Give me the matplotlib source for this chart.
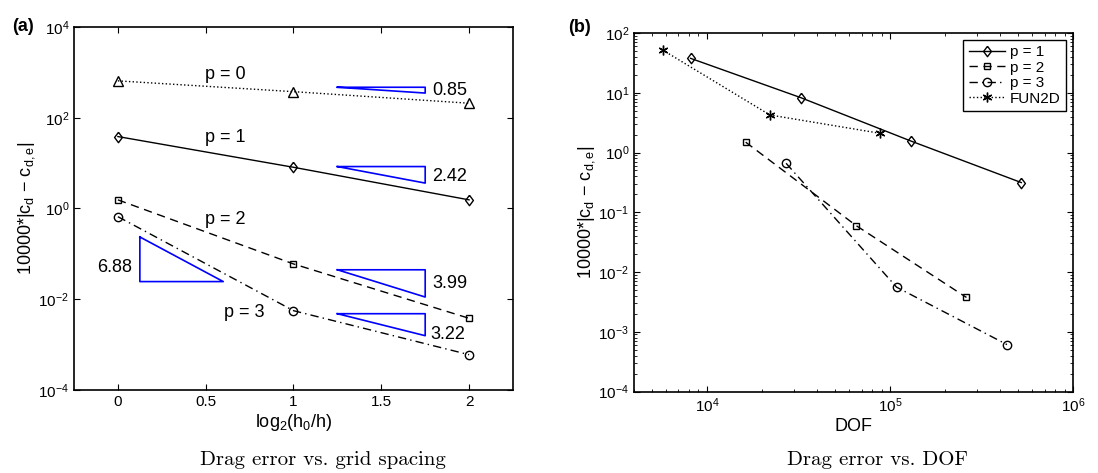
import matplotlib
matplotlib.use("Agg")
import matplotlib.pyplot as plt
from matplotlib.ticker import LogLocator, NullLocator, NullFormatter

plt.rcParams['font.family'] = ['Liberation Sans', 'DejaVu Sans']
plt.rcParams['mathtext.fontset'] = 'custom'
plt.rcParams['mathtext.rm'] = 'Liberation Sans'
plt.rcParams['mathtext.it'] = 'Liberation Sans:italic'
plt.rcParams['mathtext.bf'] = 'Liberation Sans:bold'

# (a) error vs. grid refinement
refine = [0, 1, 2]
err_p0 = [650, 376, 209]
err_p1 = [38.5, 8.1, 1.55]
err_p2 = [1.55, 0.060, 0.0038]
err_p3 = [0.66, 0.0056, 0.0006]

# slope triangles: x start, x end, y at corner, rate
tri_x0 = [1.25, 1.25, 1.25, 1.25]
tri_x1 = [1.75, 1.75, 1.75, 1.75]
tri_y0 = [470, 8.4, 0.0446, 0.0048]
tri_rate = [0.85, 2.42, 3.99, 3.22]
tri_lbl = ['0.85', '2.42', '3.99', '3.22']
tri_lbl_x = [1.89, 1.89, 1.89, 1.88]
tri_lbl_y = [390, 5.0, 0.022, 0.0017]
# p=3 triangle drawn the other way
big_x0, big_x1, big_ybot, big_rate = 0.125, 0.6, 0.0245, 6.88

p_lbl = ['p = 0', 'p = 1', 'p = 2', 'p = 3']
p_lbl_x = [0.61, 0.61, 0.61, 0.72]
p_lbl_y = [880, 36, 0.56, 0.0051]

# (b) error vs. DOF
dof_p1 = [8150, 32600, 130000, 522000]
dof_err_p1 = [37.7, 8.28, 1.56, 0.314]
dof_p2 = [16300, 65300, 262000]
dof_err_p2 = [1.49, 0.060, 0.00375]
dof_p3 = [27100, 108700, 436000]
dof_err_p3 = [0.66, 0.00558, 0.00061]
dof_fun = [5730, 22100, 88100]
dof_err_fun = [52, 4.25, 2.1]

ylab = r'10000*|c$_\mathregular{d}$ $-$ c$_\mathregular{d,e}$|'
asterisk = (6, 2, 0)
diamond = [(0, 1), (0.75, 0), (0, -1), (-0.75, 0), (0, 1)]

fig = plt.figure(figsize=(10.98, 4.73), dpi=100)
ax1 = fig.add_axes([0.0674, 0.1755, 0.3998, 0.7674])
ax2 = fig.add_axes([0.5774, 0.1723, 0.3998, 0.7579])

mk = dict(markerfacecolor='none', markeredgecolor='k', color='k', lw=1.0)
ax1.plot(refine, err_p0, linestyle=':', marker='^', ms=7, **mk)
ax1.plot(refine, err_p1, linestyle='-', marker=diamond, ms=7.5, **mk)
ax1.plot(refine, err_p2, linestyle=(0, (6, 4)), marker='s', ms=5, **mk)
ax1.plot(refine, err_p3, linestyle=(0, (6, 3, 1, 3)), marker='o', ms=6, **mk)

for x0, x1, y0, r in zip(tri_x0, tri_x1, tri_y0, tri_rate):
    y1 = y0 * 2.0 ** (-r * (x1 - x0))
    ax1.plot([x0, x1, x1, x0], [y0, y0, y1, y0], color='blue', lw=1.2)
for t, x, y in zip(tri_lbl, tri_lbl_x, tri_lbl_y):
    ax1.text(x, y, t, fontsize=13, ha='center', va='center')
big_ytop = big_ybot * 2.0 ** (big_rate * (big_x1 - big_x0))
ax1.plot([big_x0, big_x0, big_x1, big_x0], [big_ytop, big_ybot, big_ybot, big_ytop],
         color='blue', lw=1.2)
ax1.text(0.08, 0.049, '6.88', fontsize=13, ha='right', va='center')
for t, x, y in zip(p_lbl, p_lbl_x, p_lbl_y):
    ax1.text(x, y, t, fontsize=13, ha='center', va='center')

ax1.set_yscale('log')
ax1.set_xlim(-0.25, 2.25)
ax1.set_ylim(1e-4, 1e4)
ax1.set_xticks([0, 0.5, 1, 1.5, 2])
ax1.set_xticklabels(['0', '0.5', '1', '1.5', '2'])
ax1.set_yticks([1e-4, 1e-2, 1e0, 1e2, 1e4])
ax1.yaxis.set_minor_locator(NullLocator())
ax1.set_xlabel(r'log$_\mathregular{2}$(h$_\mathregular{0}$/h)', fontsize=13, labelpad=2)
ax1.set_ylabel(ylab, fontsize=13)

ax2.plot(dof_p1, dof_err_p1, linestyle='-', marker=diamond, ms=7.5, label='p = 1', **mk)
ax2.plot(dof_p2, dof_err_p2, linestyle=(0, (6, 4)), marker='s', ms=5, label='p = 2', **mk)
ax2.plot(dof_p3, dof_err_p3, linestyle=(0, (6, 3, 1, 3)), marker='o', ms=6, label='p = 3', **mk)
ax2.plot(dof_fun, dof_err_fun, linestyle=':', marker=asterisk, ms=7, label='FUN2D',
         color='k', markeredgecolor='k', lw=1.0)
ax2.set_xscale('log')
ax2.set_yscale('log')
ax2.set_xlim(4000, 1e6)
ax2.set_ylim(1e-4, 1e2)
ax2.set_xticks([1e4, 1e5, 1e6])
ax2.xaxis.set_minor_locator(LogLocator(base=10, subs=range(2, 10)))
ax2.xaxis.set_minor_formatter(NullFormatter())
ax2.set_yticks([1e-4, 1e-3, 1e-2, 1e-1, 1e0, 1e1, 1e2])
ax2.yaxis.set_minor_locator(LogLocator(base=10, subs=range(2, 10), numticks=20))
ax2.yaxis.set_minor_formatter(NullFormatter())
ax2.set_xlabel('DOF', fontsize=13, labelpad=2)
ax2.set_ylabel(ylab, fontsize=13)
leg = ax2.legend(loc='upper right', fontsize=11, handlelength=2.4, labelspacing=0.1,
                 borderpad=0.35, handletextpad=0.3, fancybox=False, framealpha=1,
                 edgecolor='k', borderaxespad=0.45)
leg.get_frame().set_linewidth(1.0)

for ax in (ax1, ax2):
    ax.tick_params(which='both', direction='in', top=True, right=True, labelsize=11)
    ax.tick_params(which='major', length=4, width=0.8)
    ax.tick_params(which='minor', length=2, width=0.6)
    ax.yaxis.set_label_coords(-0.084, 0.5)
    for s in ax.spines.values():
        s.set_linewidth(1.2)

fig.text(0.011, 0.943, '(a)', fontsize=13, fontweight='bold', va='center')
fig.text(0.517, 0.941, '(b)', fontsize=13, fontweight='bold', va='center')
fig.text(0.294, 0.027, 'Drag error vs. grid spacing', family='cmr10', fontsize=15,
         ha='center', va='center')
fig.text(0.799, 0.027, 'Drag error vs. DOF', family='cmr10', fontsize=15,
         ha='center', va='center')

fig.savefig('out.png', dpi=100)
